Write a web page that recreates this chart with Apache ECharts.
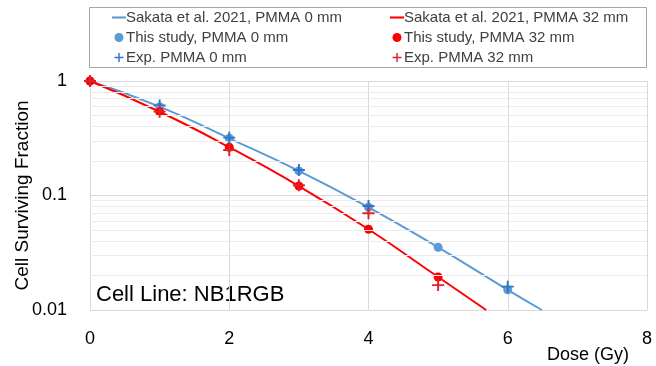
<!DOCTYPE html>
<html>
<head>
<meta charset="utf-8">
<script src="https://cdn.jsdelivr.net/npm/echarts@6/dist/echarts.min.js"></script>
<style>
  html, body { margin: 0; padding: 0; background: #fff; }
  #chart { width: 656px; height: 366px; }
</style>
</head>
<body>
<div id="chart"></div>
<script>
// doses (Gy)
var doses = [0, 1, 2, 3, 4, 5, 6];
// This study
var study0 = [1, 0.597, 0.316, 0.164, 0.0789, 0.0353, 0.0150];
var study32 = [1, 0.539, 0.264, 0.121, 0.0507, 0.0194];
// Sakata et al. 2021 curves
var sakataDose0 = [0, 1, 2, 3, 4, 5, 6, 6.49];
var sakata0 = [1, 0.597, 0.316, 0.164, 0.0789, 0.0353, 0.0150, 0.01];
var sakataDose32 = [0, 1, 2, 3, 4, 5, 5.69];
var sakata32 = [1, 0.539, 0.264, 0.121, 0.0507, 0.0194, 0.01];
// experiments
var expDose0 = [0, 1, 2, 3, 4, 6];
var exp0 = [1, 0.61, 0.32, 0.167, 0.081, 0.016];
var expDose32 = [0, 1, 2, 3, 4, 5];
var exp32 = [1, 0.54, 0.25, 0.123, 0.070, 0.0165];
// log minor grid
var minorTicks = [0.02, 0.03, 0.04, 0.05, 0.06, 0.07, 0.08, 0.09, 0.2, 0.3, 0.4, 0.5, 0.6, 0.7, 0.8, 0.9];

var FONT = '"Liberation Sans", Arial, sans-serif';
var BLUE = '#5b9bd5', RED = '#ff0000';
var BLUE_X = '#2e75c6', RED_X = '#e0202a';
var CROSS = 'path://M4.2,0H5.8V4.2H10V5.8H5.8V10H4.2V5.8H0V4.2H4.2Z';
var DASH = 'path://M0,0H20V3H0Z';

function pairs(xs, ys) {
  return ys.map(function (v, i) { return [xs[i], v]; });
}

var legendBase = {
  orient: 'vertical', top: 5, itemGap: 5, itemWidth: 14, itemHeight: 9,
  textStyle: { fontSize: 15, color: '#404040', padding: [0, 0, 0, -5] }
};

var chart = echarts.init(document.getElementById('chart'));
chart.setOption({
  animation: false,
  textStyle: { fontFamily: FONT },
  grid: { left: 90, right: 9, top: 81, bottom: 56, outerBoundsMode: 'none', containLabel: false },
  graphic: [
    { type: 'rect', shape: { x: 89.5, y: 7.5, width: 557, height: 60 },
      style: { fill: '#fff', stroke: '#a6a6a6', lineWidth: 1 }, z: 0 },
    { type: 'text', left: 96, top: 284,
      style: { text: 'Cell Line: NB1RGB', fontSize: 22, fill: '#000', fontFamily: FONT } }
  ],
  legend: [
    Object.assign({}, legendBase, { left: 107,
      data: [{ name: 'Sakata et al. 2021, PMMA 0 mm', icon: DASH }, 'This study, PMMA 0 mm', 'Exp. PMMA 0 mm'] }),
    Object.assign({}, legendBase, { left: 385,
      data: [{ name: 'Sakata et al. 2021, PMMA 32 mm', icon: DASH }, 'This study, PMMA 32 mm', 'Exp. PMMA 32 mm'] })
  ],
  xAxis: {
    type: 'value', min: 0, max: 8, interval: 2,
    name: 'Dose (Gy)', nameLocation: 'end', nameGap: 0,
    nameTextStyle: { fontSize: 18, color: '#000', align: 'right', verticalAlign: 'top', padding: [36, 18, 0, 0] },
    axisLine: { show: true, lineStyle: { color: '#d9d9d9' } },
    axisTick: { show: false },
    axisLabel: { fontSize: 18, color: '#000', margin: 20 },
    splitLine: { show: true, lineStyle: { color: '#d9d9d9' } }
  },
  yAxis: {
    type: 'log', logBase: 10, min: 0.01, max: 1,
    name: 'Cell Surviving Fraction', nameLocation: 'middle', nameGap: 58, nameRotate: 90,
    nameMoveOverlap: false,
    nameTextStyle: { fontSize: 19, color: '#000' },
    axisLine: { show: true, lineStyle: { color: '#d9d9d9' } },
    axisTick: { show: false },
    axisLabel: { fontSize: 18, color: '#000', margin: 23 },
    splitLine: { show: true, lineStyle: { color: '#d9d9d9' } }
  },
  series: [
    { name: 'grid-minor', type: 'line', data: [], silent: true,
      markLine: { silent: true, symbol: 'none', label: { show: false },
        lineStyle: { color: '#ececec', type: 'solid', width: 1 },
        data: minorTicks.map(function (v) { return { yAxis: v }; }) } },
    { name: 'Sakata et al. 2021, PMMA 0 mm', type: 'line', smooth: true, showSymbol: false, symbol: 'none',
      data: pairs(sakataDose0, sakata0), lineStyle: { color: BLUE, width: 2 }, itemStyle: { color: BLUE }, z: 3 },
    { name: 'Sakata et al. 2021, PMMA 32 mm', type: 'line', smooth: true, showSymbol: false, symbol: 'none',
      data: pairs(sakataDose32, sakata32), lineStyle: { color: RED, width: 2 }, itemStyle: { color: RED }, z: 3 },
    { name: 'This study, PMMA 0 mm', type: 'scatter', symbol: 'circle', symbolSize: 9,
      data: pairs(doses, study0), itemStyle: { color: BLUE, opacity: 1 }, z: 4 },
    { name: 'This study, PMMA 32 mm', type: 'scatter', symbol: 'circle', symbolSize: 9,
      data: pairs(doses, study32), itemStyle: { color: RED, opacity: 1 }, z: 4 },
    { name: 'Exp. PMMA 0 mm', type: 'scatter', symbol: CROSS, symbolSize: 12,
      data: pairs(expDose0, exp0), itemStyle: { color: BLUE_X, opacity: 1 }, z: 5 },
    { name: 'Exp. PMMA 32 mm', type: 'scatter', symbol: CROSS, symbolSize: 12,
      data: pairs(expDose32, exp32), itemStyle: { color: RED_X, opacity: 1 }, z: 5 }
  ]
});
</script>
</body>
</html>
